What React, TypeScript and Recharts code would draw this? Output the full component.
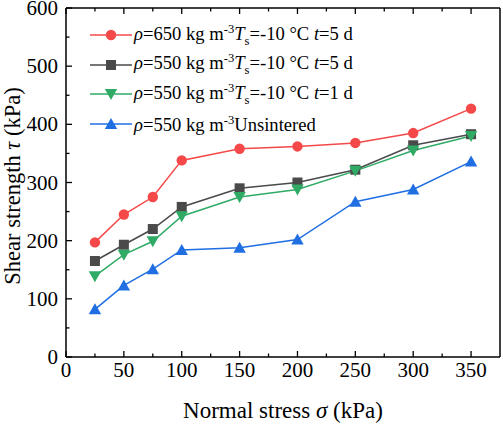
import React from "react";
import { LineChart, Line, XAxis, YAxis } from "recharts";

// Normal stress (kPa) and shear strength (kPa)
const stress = [25, 50, 75, 100, 150, 200, 250, 300, 350];
const rho650T10t5 = [197, 245, 275, 338, 358, 362, 368, 385, 427];
const rho550T10t5 = [165, 193, 220, 258, 290, 300, 322, 364, 383];
const rho550T10t1 = [139, 176, 199, 242, 275, 288, 320, 355, 380];
const rho550Unsintered = [82, 123, 151, 184, 188, 202, 267, 288, 336];

const xTicks = [0, 25, 50, 75, 100, 125, 150, 175, 200, 225, 250, 275, 300, 325, 350];
const yTicks = [0, 50, 100, 150, 200, 250, 300, 350, 400, 450, 500, 550, 600];

const data = stress.map((s, i) => ({
  stress: s,
  r650t5: rho650T10t5[i],
  r550t5: rho550T10t5[i],
  r550t1: rho550T10t1[i],
  r550u: rho550Unsintered[i],
}));

type Shape = "circle" | "square" | "down" | "up";

const series: { key: string; color: string; shape: Shape }[] = [
  { key: "r650t5", color: "#f54848", shape: "circle" },
  { key: "r550t5", color: "#4a4a4a", shape: "square" },
  { key: "r550t1", color: "#2fab66", shape: "down" },
  { key: "r550u", color: "#1f6fe3", shape: "up" },
];

const FONT = "Liberation Serif";

function Marker({ shape, cx, cy, color }: { shape: Shape; cx: number; cy: number; color: string }) {
  if (shape === "circle") return <circle cx={cx} cy={cy} r={5.2} fill={color} />;
  if (shape === "square")
    return <rect x={cx - 5} y={cy - 5} width={10} height={10} fill={color} />;
  if (shape === "down")
    return (
      <polygon
        points={`${cx - 6.2},${cy - 5} ${cx + 6.2},${cy - 5} ${cx},${cy + 6}`}
        fill={color}
      />
    );
  return (
    <polygon
      points={`${cx - 6.2},${cy + 5} ${cx + 6.2},${cy + 5} ${cx},${cy - 6}`}
      fill={color}
    />
  );
}

// ticks point inward, labels only on major ticks
const XTick = (props: any) => {
  const { x, y, payload, side } = props;
  const major = payload.value % 50 === 0;
  const len = major ? 6 : 3.5;
  const dir = side === "bottom" ? -1 : 1;
  return (
    <g>
      <line x1={x} y1={y} x2={x} y2={y + dir * len} stroke="#000" strokeWidth={1.3} />
      {side === "bottom" && major && (
        <text x={x} y={y + 20} textAnchor="middle" fontSize={21} fontFamily={FONT} fill="#000">
          {payload.value}
        </text>
      )}
    </g>
  );
};

const YTick = (props: any) => {
  const { x, y, payload, side } = props;
  const major = payload.value % 100 === 0;
  const len = major ? 6 : 3.5;
  const dir = side === "left" ? 1 : -1;
  return (
    <g>
      <line x1={x} y1={y} x2={x + dir * len} y2={y} stroke="#000" strokeWidth={1.3} />
      {side === "left" && major && (
        <text x={x - 8} y={y + 7} textAnchor="end" fontSize={21} fontFamily={FONT} fill="#000">
          {payload.value}
        </text>
      )}
    </g>
  );
};

function LegendText({ idx }: { idx: number }) {
  const rho = <i>ρ</i>;
  const m3 = (
    <>
      kg m<sup style={{ fontSize: "0.68em" }}>-3</sup>
    </>
  );
  const ts = (
    <>
      <i>T</i>
      <sub style={{ fontSize: "0.68em" }}>s</sub>=-10 °C <i>t</i>
    </>
  );
  if (idx === 0)
    return (
      <span>
        {rho}=650 {m3}
        {ts}=5 d
      </span>
    );
  if (idx === 1)
    return (
      <span>
        {rho}=550 {m3}
        {ts}=5 d
      </span>
    );
  if (idx === 2)
    return (
      <span>
        {rho}=550 {m3}
        {ts}=1 d
      </span>
    );
  return (
    <span>
      {rho}=550 {m3}Unsintered
    </span>
  );
}

export default function App() {
  return (
    <div style={{ position: "absolute", left: 0, top: 0, width: 503, height: 427, background: "#fff" }}>
      <LineChart
        width={503}
        height={427}
        data={data}
        margin={{ top: 0, right: 0, bottom: 0, left: 0 }}
      >
        <XAxis
          xAxisId="bottom"
          dataKey="stress"
          type="number"
          domain={[0, 375]}
          ticks={xTicks}
          interval={0}
          height={70}
          tickSize={0}
          tickMargin={0}
          tickLine={false}
          axisLine={{ stroke: "#000", strokeWidth: 1.5 }}
          tick={<XTick side="bottom" />}
          label={{
            content: () => (
              <text x={283} y={418} textAnchor="middle" fontSize={23} fontFamily={FONT} fill="#000">
                Normal stress <tspan fontStyle="italic">σ</tspan> (kPa)
              </text>
            ),
          }}
        />
        <XAxis
          xAxisId="top"
          orientation="top"
          dataKey="stress"
          type="number"
          domain={[0, 375]}
          ticks={xTicks}
          interval={0}
          height={8}
          tickSize={0}
          tickMargin={0}
          tickLine={false}
          axisLine={{ stroke: "#000", strokeWidth: 1.5 }}
          tick={<XTick side="top" />}
        />
        <YAxis
          yAxisId="left"
          domain={[0, 600]}
          ticks={yTicks}
          interval={0}
          width={66}
          tickSize={0}
          tickMargin={0}
          tickLine={false}
          axisLine={{ stroke: "#000", strokeWidth: 1.5 }}
          tick={<YTick side="left" />}
          label={{
            content: () => (
              <text
                x={20}
                y={186}
                transform="rotate(-90 20 186)"
                textAnchor="middle"
                fontSize={22.5}
                fontFamily={FONT}
                fill="#000"
              >
                Shear strength <tspan fontStyle="italic">τ</tspan> (kPa)
              </text>
            ),
          }}
        />
        <YAxis
          yAxisId="right"
          orientation="right"
          domain={[0, 600]}
          ticks={yTicks}
          interval={0}
          width={3}
          tickSize={0}
          tickMargin={0}
          tickLine={false}
          axisLine={{ stroke: "#000", strokeWidth: 1.5 }}
          tick={<YTick side="right" />}
        />
        {series.map((s) => (
          <Line
            key={s.key}
            xAxisId="bottom"
            yAxisId="left"
            dataKey={s.key}
            stroke={s.color}
            strokeWidth={1.5}
            isAnimationActive={false}
            dot={(p: any) => (
              <Marker key={`${s.key}-${p.index}`} shape={s.shape} cx={p.cx} cy={p.cy} color={s.color} />
            )}
            activeDot={false}
          />
        ))}
      </LineChart>
      <div
        style={{
          position: "absolute",
          left: 90,
          top: 20,
          fontFamily: FONT,
          fontSize: 18.6,
          color: "#000",
          lineHeight: 1,
        }}
      >
        {series.map((s, i) => (
          <div key={s.key} style={{ height: 29.7, display: "flex", alignItems: "center", whiteSpace: "nowrap" }}>
            <svg width={42} height={16} style={{ marginRight: 2 }}>
              <line x1={0} y1={8} x2={42} y2={8} stroke={s.color} strokeWidth={1.5} />
              <Marker shape={s.shape} cx={21} cy={8} color={s.color} />
            </svg>
            <LegendText idx={i} />
          </div>
        ))}
      </div>
    </div>
  );
}
